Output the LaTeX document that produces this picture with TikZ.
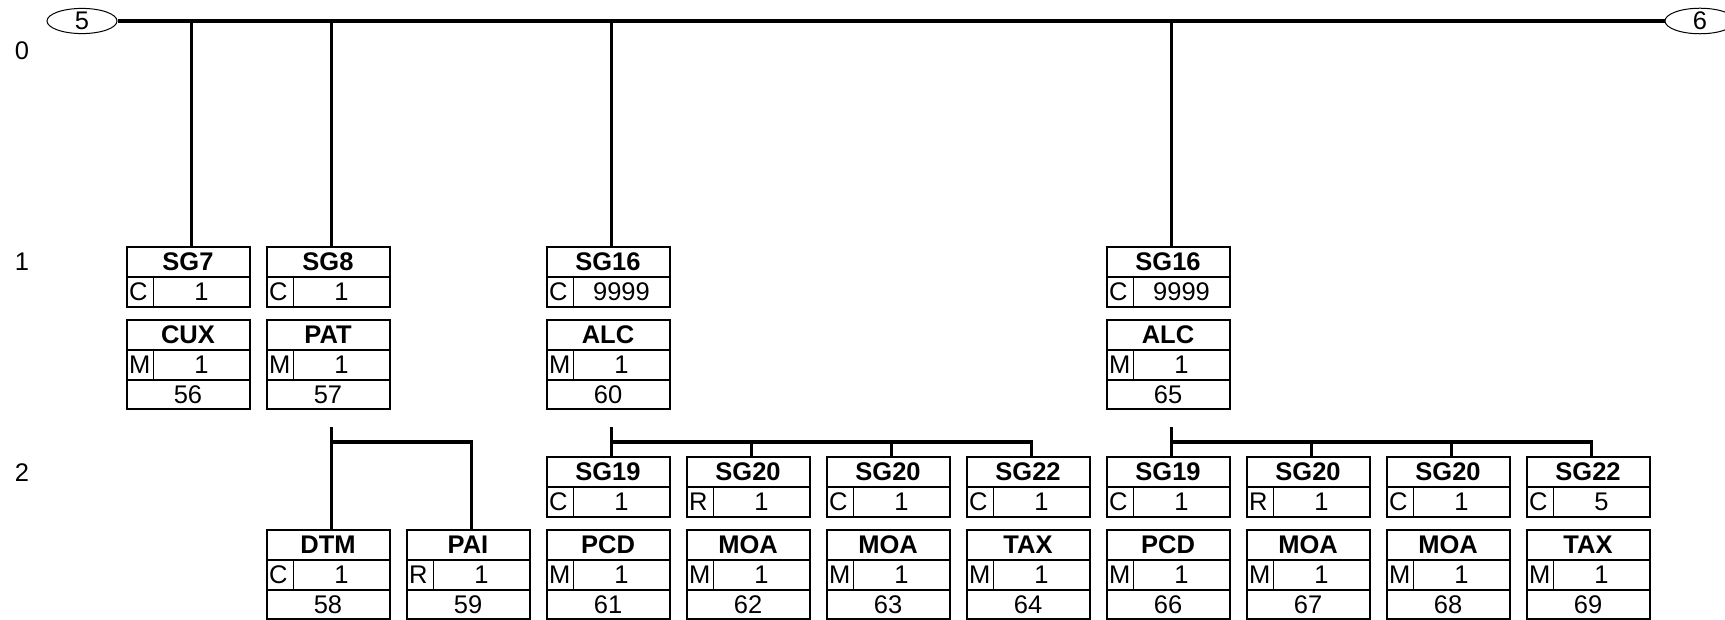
\documentclass[tikz,border=0pt]{standalone}
\usepackage{fontspec}
\setmainfont{Liberation Sans}
\usetikzlibrary{shapes.geometric}
\tikzset{
 boxframe/.style={draw, line width=2pt, minimum width=123pt, inner sep=0pt},
 conn/.style={line width=3.3pt},
 div/.style={line width=1.5pt},
 ttl/.style={font=\fontsize{25.5}{28}\selectfont\bfseries, inner sep=0pt},
 txt/.style={font=\fontsize{25.5}{28}\selectfont, inner sep=0pt},
 oval/.style={draw, ellipse, line width=1pt, minimum width=70pt, minimum height=21pt, inner sep=0pt, font=\fontsize{25.5}{28}\selectfont},
}
% name, left, top, title, status, repetition
\newcommand\grpbox[6]{%
 \node[boxframe, minimum height=60pt] (#1) at ({#2+61.5},{#3+30}) {};
 \draw[div] ({#2},{#3+30}) -- ({#2+123},{#3+30});
 \draw[div] ({#2+27},{#3+30}) -- ({#2+27},{#3+60});
 \node[ttl] (#1-t) at ({#2+61.5},{#3+15}) {#4};
 \node[txt, anchor=west] (#1-s) at ({#2+2.5},{#3+45}) {#5};
 \node[txt] (#1-r) at ({#2+75},{#3+45}) {#6};
}
% name, left, top, title, status, repetition, number
\newcommand\segbox[7]{%
 \node[boxframe, minimum height=89pt] (#1) at ({#2+61.5},{#3+44.5}) {};
 \draw[div] ({#2},{#3+30}) -- ({#2+123},{#3+30});
 \draw[div] ({#2},{#3+60}) -- ({#2+123},{#3+60});
 \draw[div] ({#2+27},{#3+30}) -- ({#2+27},{#3+60});
 \node[ttl] (#1-t) at ({#2+61.5},{#3+15}) {#4};
 \node[txt, anchor=west] (#1-s) at ({#2+2.5},{#3+45}) {#5};
 \node[txt] (#1-r) at ({#2+75},{#3+45}) {#6};
 \node[txt] (#1-n) at ({#2+61.5},{#3+74.5}) {#7};
}
\begin{document}
\begin{tikzpicture}[x=1pt,y=-1pt]
\useasboundingbox (0,0) rectangle (1725,620);
% level labels
\node[txt] (l0) at (22,51) {0};
\node[txt] (l1) at (22,262) {1};
\node[txt] (l2) at (22,473) {2};
% end ovals
\node[oval] (e5) at (82,21) {5};
\node[oval] (e6) at (1700,21) {6};
\draw[conn] (e5.east) -- (e6.west);
% level 1
\grpbox{sg7}{126.5}{247}{SG7}{C}{1}
\segbox{cux}{126.5}{320}{CUX}{M}{1}{56}
\grpbox{sg8}{266.5}{247}{SG8}{C}{1}
\segbox{pat}{266.5}{320}{PAT}{M}{1}{57}
\grpbox{sga}{546.5}{247}{SG16}{C}{9999}
\segbox{alca}{546.5}{320}{ALC}{M}{1}{60}
\grpbox{sgb}{1106.5}{247}{SG16}{C}{9999}
\segbox{alcb}{1106.5}{320}{ALC}{M}{1}{65}
% level 2
\segbox{dtm}{266.5}{530}{DTM}{C}{1}{58}
\segbox{pai}{406.5}{530}{PAI}{R}{1}{59}
\grpbox{sg19a}{546.5}{457}{SG19}{C}{1}
\segbox{pcda}{546.5}{530}{PCD}{M}{1}{61}
\grpbox{sg20a}{686.5}{457}{SG20}{R}{1}
\segbox{moaa}{686.5}{530}{MOA}{M}{1}{62}
\grpbox{sg20b}{826.5}{457}{SG20}{C}{1}
\segbox{moab}{826.5}{530}{MOA}{M}{1}{63}
\grpbox{sg22a}{966.5}{457}{SG22}{C}{1}
\segbox{taxa}{966.5}{530}{TAX}{M}{1}{64}
\grpbox{sg19b}{1106.5}{457}{SG19}{C}{1}
\segbox{pcdb}{1106.5}{530}{PCD}{M}{1}{66}
\grpbox{sg20c}{1246.5}{457}{SG20}{R}{1}
\segbox{moac}{1246.5}{530}{MOA}{M}{1}{67}
\grpbox{sg20d}{1386.5}{457}{SG20}{C}{1}
\segbox{moad}{1386.5}{530}{MOA}{M}{1}{68}
\grpbox{sg22b}{1526.5}{457}{SG22}{C}{5}
\segbox{taxb}{1526.5}{530}{TAX}{M}{1}{69}
% connector anchor points (3.5 right of centre)
\foreach \n in {sg7,sg8,sga,sgb,dtm,pai,sg19a,sg20a,sg20b,sg22a,sg19b,sg20c,sg20d,sg22b}{
  \coordinate (\n-in) at ([xshift=3.5pt]\n.north);
}
\foreach \n in {pat,alca,alcb}{
  \coordinate (\n-out) at ([xshift=3.5pt,yshift=-17pt]\n.south);
  \coordinate (\n-bar) at ([xshift=3.5pt,yshift=-32pt]\n.south);
}
% level 0 -> 1
\foreach \n in {sg7,sg8,sga,sgb}{
  \draw[conn] (\n-in) -- (\n-in |- e5.east);
}
% PAT -> DTM, PAI
\draw[conn] (pat-out) -- (dtm-in);
\draw[conn] (pat-bar) -| (pai-in);
% ALC -> children
\draw[conn] (alca-out) -- (sg19a-in);
\draw[conn] (alca-bar) -| (sg22a-in);
\draw[conn] (sg20a-in) -- (sg20a-in |- alca-bar);
\draw[conn] (sg20b-in) -- (sg20b-in |- alca-bar);
\draw[conn] (alcb-out) -- (sg19b-in);
\draw[conn] (alcb-bar) -| (sg22b-in);
\draw[conn] (sg20c-in) -- (sg20c-in |- alcb-bar);
\draw[conn] (sg20d-in) -- (sg20d-in |- alcb-bar);
\end{tikzpicture}
\end{document}
